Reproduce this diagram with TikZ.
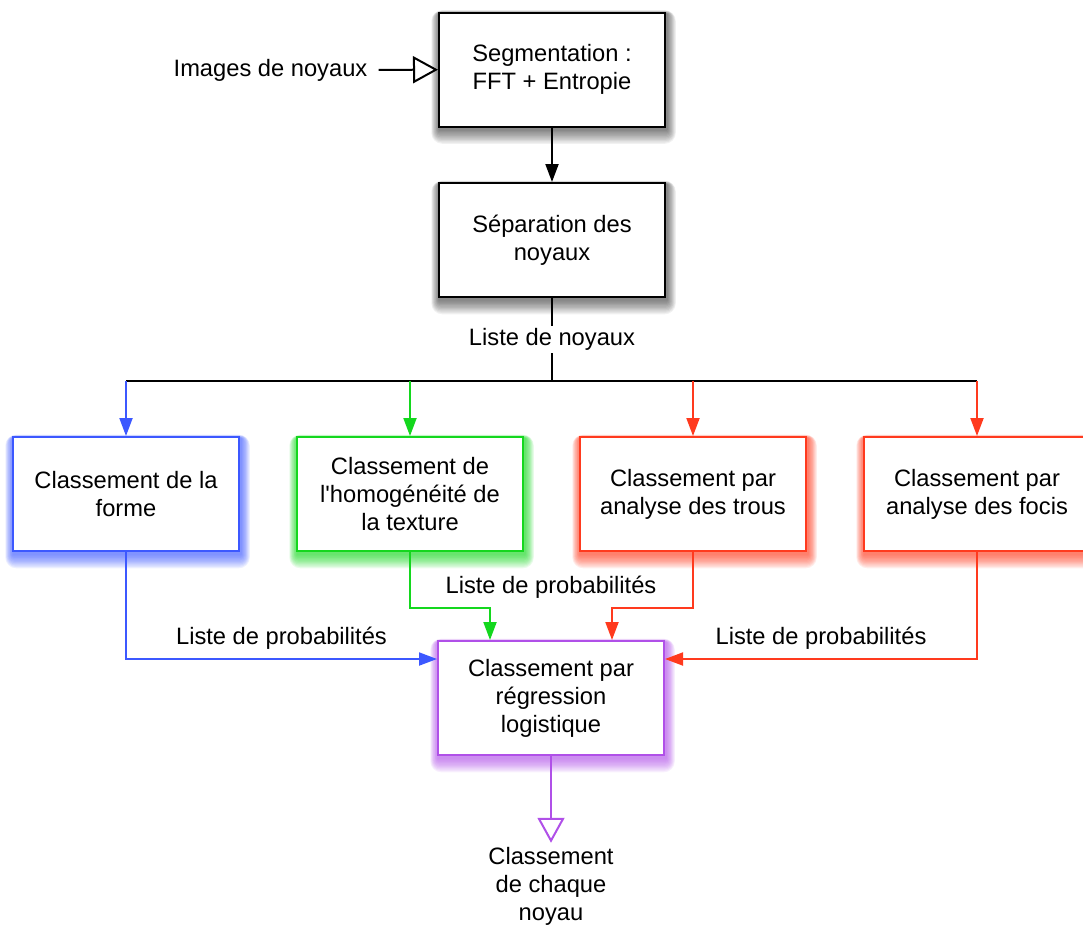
\documentclass[tikz,border=0pt]{standalone}
\usepackage{fontspec}
\newfontfamily\diagfont{Liberation Sans}
\usetikzlibrary{arrows.meta,backgrounds}

\definecolor{cblue}{RGB}{60,88,255}
\definecolor{cgreen}{RGB}{20,215,30}
\definecolor{cred}{RGB}{255,58,30}
\definecolor{cpurple}{RGB}{176,80,232}

\tikzset{
  stage/.style={draw=#1, fill=white, line width=2pt,
    minimum width=226pt, minimum height=114pt, align=center, inner sep=0pt},
  link/.style={draw=#1, line width=2pt, -{Triangle[length=18pt,width=13pt]}},
  plain/.style={draw=black, line width=2pt},
  openlink/.style={draw=#1, line width=2pt,
    -{Triangle[open,length=25pt,width=27pt,fill=white]}},
  lbl/.style={fill=white, inner sep=2pt},
  txt/.style={align=center, inner sep=0pt},
}

% soft halo drawn underneath a box
\newcommand\haloof[3]{%
  \begin{scope}[on background layer]
    \foreach \k in {1,...,11}{
      \fill[#2, opacity=#3, rounded corners=\k pt]
        ([shift={(-0.7*\k pt+1pt, 0.3*\k pt-2pt)}]#1.north west)
        rectangle ([shift={(0.8*\k pt+1pt, -1.3*\k pt-2pt)}]#1.south east);
    }
  \end{scope}}

\begin{document}
\begin{tikzpicture}[x=1pt, y=-1pt, font=\diagfont\fontsize{23.7}{28}\selectfont]
\useasboundingbox (0,0) rectangle (1083,929);

% boxes
\node[stage=black]   (seg)   at (552,69.5) {Segmentation :\\FFT + Entropie};
\node[stage=black]   (sep)   at (552,240)  {Séparation des\\noyaux};
\node[stage=cblue]   (blue)  at (126,494) {Classement de la\\forme};
\node[stage=cgreen]  (green) at (410,494) {Classement de\\l'homogénéité de\\la texture};
\node[stage=cred]    (red1)  at (693,494) {Classement par\\analyse des trous};
\node[stage=cred]    (red2)  at (977,494) {Classement par\\analyse des focis};
\node[stage=cpurple] (logit) at (551,698) {Classement par\\régression\\logistique};

\haloof{seg}{black}{0.055}
\haloof{sep}{black}{0.055}
\haloof{blue}{cblue}{0.09}
\haloof{green}{cgreen}{0.09}
\haloof{red1}{cred}{0.09}
\haloof{red2}{cred}{0.09}
\haloof{logit}{cpurple}{0.09}

% free texts
\node[txt, inner sep=3pt] (imgs) at (270.5,70) {Images de noyaux};
\node[txt] (result) at (551,886) {Classement\\de chaque\\noyau};
\coordinate (split) at (552,381);

% input and first stages
\draw[openlink=black, shorten <=8pt] (imgs) -- (seg);
\draw[link=black] (seg) -- (sep);
\draw[plain] (sep) -- (split) node[midway, lbl] (lnoy) {Liste de noyaux};
\draw[plain] (blue |- split) -- (red2 |- split);

% distribution to classifiers
\draw[link=cblue]  (blue |- split)  -- (blue);
\draw[link=cgreen] (green |- split) -- (green);
\draw[link=cred]   (red1 |- split)  -- (red1);
\draw[link=cred]   (red2 |- split)  -- (red2);

% probabilities into the logistic regression
\draw[link=cblue] (blue.south) |- ([yshift=39pt]logit.west)
  node[pos=0.75, above=5pt] (pblue) {Liste de probabilités};
\draw[link=cgreen] (green.south) -- ++(0,56) -| ([xshift=-61pt]logit.north);
\draw[link=cred] (red1.south) -- ++(0,56) -| ([xshift=61pt]logit.north);
\node (pmid) at (551,587) {Liste de probabilités};
\draw[link=cred] (red2.south) |- ([yshift=39pt]logit.east)
  node[pos=0.75, above=5pt] (pred) {Liste de probabilités};

% output
\draw[openlink=cpurple, shorten >=4pt] (logit) -- (result);
\end{tikzpicture}
\end{document}
